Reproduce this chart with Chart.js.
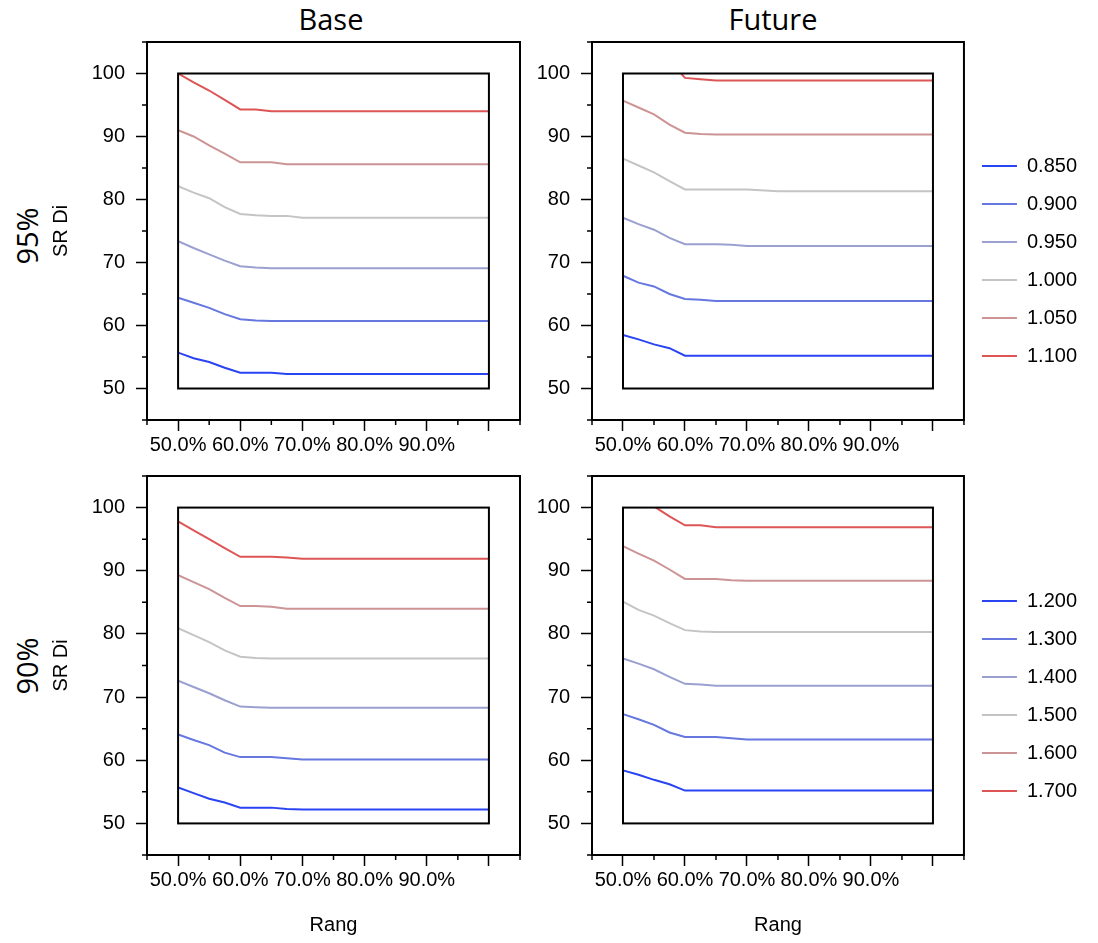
<!DOCTYPE html>
<html>
<head>
<meta charset="utf-8">
<script src="https://cdn.jsdelivr.net/npm/chart.js@4/dist/chart.umd.min.js"></script>
<style>
    body { margin: 0; background: #fff; }
    #lienzo { position: relative; width: 1098px; height: 943px; background: #fff; overflow: hidden; }
    #lienzo canvas { position: absolute; }
    .rotulo { position: absolute; font-family: "Open Sans", sans-serif; color: #000; line-height: 1; white-space: nowrap; }
    .vertical { transform: translate(-50%, -50%) rotate(-90deg); }
</style>
</head>
<body>
<div id="lienzo">
    <div class="rotulo" style="left:331px; top:4px; font-size:29px; transform:translateX(-50%);">Base</div>
    <div class="rotulo" style="left:773px; top:4px; font-size:29px; transform:translateX(-50%);">Future</div>
    <div class="rotulo vertical" style="left:26px; top:236px; font-size:29px;">95%</div>
    <div class="rotulo vertical" style="left:26px; top:666px; font-size:29px;">90%</div>
    <canvas id="baseAlto" width="530" height="480" style="left:0; top:0;"></canvas>
    <canvas id="futuroAlto" width="578" height="480" style="left:520px; top:0;"></canvas>
    <canvas id="baseBajo" width="530" height="509" style="left:0; top:434px;"></canvas>
    <canvas id="futuroBajo" width="578" height="509" style="left:520px; top:434px;"></canvas>
</div>
<script>
// Datos
const rang = [50, 52.5, 55, 57.5, 60, 62.5, 65, 67.5, 70, 75, 80, 90, 100];

const etiquetas95 = ["0.850", "0.900", "0.950", "1.000", "1.050", "1.100"];
const etiquetas90 = ["1.200", "1.300", "1.400", "1.500", "1.600", "1.700"];

// Base 95%
const base95 = [
    [55.7, 54.8, 54.2, 53.3, 52.5, 52.5, 52.5, 52.3, 52.3, 52.3, 52.3, 52.3, 52.3],
    [64.4, 63.6, 62.8, 61.8, 61.0, 60.8, 60.7, 60.7, 60.7, 60.7, 60.7, 60.7, 60.7],
    [73.4, 72.3, 71.3, 70.3, 69.4, 69.2, 69.1, 69.1, 69.1, 69.1, 69.1, 69.1, 69.1],
    [82.1, 81.1, 80.2, 78.8, 77.7, 77.5, 77.4, 77.4, 77.1, 77.1, 77.1, 77.1, 77.1],
    [91.0, 90.0, 88.6, 87.3, 85.9, 85.9, 85.9, 85.6, 85.6, 85.6, 85.6, 85.6, 85.6],
    [100.0, 98.6, 97.3, 95.8, 94.3, 94.3, 94.0, 94.0, 94.0, 94.0, 94.0, 94.0, 94.0]
];

// Future 95%
const futuro95 = [
    [58.5, 57.8, 57.0, 56.4, 55.2, 55.2, 55.2, 55.2, 55.2, 55.2, 55.2, 55.2, 55.2],
    [67.9, 66.8, 66.2, 65.0, 64.2, 64.1, 63.9, 63.9, 63.9, 63.9, 63.9, 63.9, 63.9],
    [77.1, 76.1, 75.2, 73.9, 72.9, 72.9, 72.9, 72.8, 72.6, 72.6, 72.6, 72.6, 72.6],
    [86.5, 85.4, 84.3, 82.9, 81.6, 81.6, 81.6, 81.6, 81.6, 81.3, 81.3, 81.3, 81.3],
    [95.7, 94.6, 93.5, 91.9, 90.6, 90.4, 90.3, 90.3, 90.3, 90.3, 90.3, 90.3, 90.3],
    [106.5, 105.0, 103.6, 102.0, 99.3, 99.1, 98.9, 98.9, 98.9, 98.9, 98.9, 98.9, 98.9]
];

// Base 90%
const base90 = [
    [55.7, 54.8, 53.9, 53.3, 52.5, 52.5, 52.5, 52.3, 52.2, 52.2, 52.2, 52.2, 52.2],
    [64.1, 63.2, 62.4, 61.2, 60.5, 60.5, 60.5, 60.3, 60.1, 60.1, 60.1, 60.1, 60.1],
    [72.6, 71.6, 70.6, 69.5, 68.5, 68.4, 68.3, 68.3, 68.3, 68.3, 68.3, 68.3, 68.3],
    [80.9, 79.8, 78.7, 77.4, 76.4, 76.2, 76.1, 76.1, 76.1, 76.1, 76.1, 76.1, 76.1],
    [89.3, 88.2, 87.1, 85.7, 84.4, 84.4, 84.3, 84.0, 84.0, 84.0, 84.0, 84.0, 84.0],
    [97.8, 96.4, 95.0, 93.6, 92.2, 92.2, 92.2, 92.1, 91.9, 91.9, 91.9, 91.9, 91.9]
];

// Future 90%
const futuro90 = [
    [58.4, 57.7, 56.9, 56.2, 55.2, 55.2, 55.2, 55.2, 55.2, 55.2, 55.2, 55.2, 55.2],
    [67.3, 66.5, 65.6, 64.4, 63.7, 63.7, 63.7, 63.5, 63.3, 63.3, 63.3, 63.3, 63.3],
    [76.1, 75.3, 74.4, 73.2, 72.1, 72.0, 71.8, 71.8, 71.8, 71.8, 71.8, 71.8, 71.8],
    [85.1, 83.8, 82.9, 81.7, 80.6, 80.4, 80.3, 80.3, 80.3, 80.3, 80.3, 80.3, 80.3],
    [93.9, 92.7, 91.6, 90.2, 88.7, 88.7, 88.7, 88.5, 88.4, 88.4, 88.4, 88.4, 88.4],
    [103.2, 101.7, 100.2, 98.6, 97.2, 97.2, 96.9, 96.9, 96.9, 96.9, 96.9, 96.9, 96.9]
];

const colores = ["#2b44f2", "#6677e0", "#9aa0d0", "#c4c4c4", "#cc9494", "#dd5555"];

Chart.defaults.font.family = '"Liberation Sans", Arial, sans-serif';
Chart.defaults.font.size = 20;
Chart.defaults.color = "#000";

// Marco exterior, rectangulo interior, ticks menores y recorte de las lineas
const marcoPlugin = {
    id: "marco",
    beforeDatasetsDraw(chart) {
        const { ctx, scales: { x, y } } = chart;
        ctx.save();
        ctx.beginPath();
        ctx.rect(x.getPixelForValue(50), y.getPixelForValue(100),
            x.getPixelForValue(100) - x.getPixelForValue(50),
            y.getPixelForValue(50) - y.getPixelForValue(100));
        ctx.clip();
    },
    afterDatasetsDraw(chart) {
        chart.ctx.restore();
    },
    afterDraw(chart) {
        const { ctx, chartArea: a, scales: { x, y } } = chart;
        ctx.save();
        ctx.strokeStyle = "#000";
        ctx.lineWidth = 2;
        ctx.strokeRect(a.left, a.top, a.right - a.left, a.bottom - a.top);
        const x0 = x.getPixelForValue(50), x1 = x.getPixelForValue(100);
        const y0 = y.getPixelForValue(100), y1 = y.getPixelForValue(50);
        ctx.strokeRect(x0, y0, x1 - x0, y1 - y0);
        ctx.lineWidth = 1.5;
        ctx.beginPath();
        x.ticks.forEach(t => {
            if (t.value % 10 !== 0) {
                const px = x.getPixelForValue(t.value);
                ctx.moveTo(px, a.bottom);
                ctx.lineTo(px, a.bottom + 5);
            }
        });
        y.ticks.forEach(t => {
            if (t.value % 10 !== 0) {
                const py = y.getPixelForValue(t.value);
                ctx.moveTo(a.left, py);
                ctx.lineTo(a.left - 5, py);
            }
        });
        ctx.stroke();
        ctx.restore();
    }
};

function colorTick(c) {
    return c.tick && c.tick.value % 10 === 0 ? "#000" : "rgba(0,0,0,0)";
}

function crearPanel(id, series, etiquetas, opc) {
    const datasets = series.map((valores, i) => ({
        label: etiquetas[i],
        data: rang.map((r, j) => ({ x: r, y: valores[j] })),
        borderColor: colores[i],
        backgroundColor: colores[i],
        borderWidth: 2,
        pointRadius: 0,
        tension: 0
    }));

    return new Chart(document.getElementById(id), {
        type: "line",
        data: { datasets },
        plugins: [marcoPlugin],
        options: {
            responsive: false,
            animation: false,
            events: [],
            layout: { padding: opc.padding },
            plugins: {
                tooltip: { enabled: false },
                legend: {
                    display: opc.leyenda,
                    position: "right",
                    labels: {
                        usePointStyle: true,
                        pointStyle: "line",
                        pointStyleWidth: 35,
                        padding: 18,
                        color: "#000",
                        font: { size: 20 }
                    }
                }
            },
            scales: {
                x: {
                    type: "linear",
                    min: 45,
                    max: 105,
                    afterFit: s => { s.height = opc.altoX; },
                    border: { display: false },
                    grid: { drawOnChartArea: false, tickLength: 11, tickWidth: 1.5, tickColor: colorTick },
                    ticks: {
                        stepSize: 5,
                        autoSkip: false,
                        maxRotation: 0,
                        padding: 2,
                        callback: v => (v % 10 === 0 && v >= 50 && v <= 90) ? v.toFixed(1) + "%" : ""
                    },
                    title: {
                        display: opc.tituloX,
                        text: "Rang",
                        padding: { top: 0, bottom: -21.5 }
                    }
                },
                y: {
                    min: 45,
                    max: 105,
                    afterFit: s => { s.width = opc.anchoY; },
                    border: { display: false },
                    grid: { drawOnChartArea: false, tickLength: 11, tickWidth: 1.5, tickColor: colorTick },
                    ticks: {
                        stepSize: 5,
                        autoSkip: false,
                        padding: 11,
                        callback: v => (v % 10 === 0 && v >= 50 && v <= 100) ? String(v) : ""
                    },
                    title: {
                        display: opc.tituloY,
                        text: "SR Di",
                        padding: { top: 49, bottom: 0 }
                    }
                }
            }
        }
    });
}

crearPanel("baseAlto", base95, etiquetas95, {
    padding: { top: 42, right: 10, bottom: 0, left: 0 },
    leyenda: false, altoX: 60, anchoY: 147, tituloX: false, tituloY: true
});
crearPanel("futuroAlto", futuro95, etiquetas95, {
    padding: { top: 42, right: 11, bottom: 0, left: 0 },
    leyenda: true, altoX: 60, anchoY: 72, tituloX: false, tituloY: false
});
crearPanel("baseBajo", base90, etiquetas90, {
    padding: { top: 42, right: 10, bottom: 27, left: 0 },
    leyenda: false, altoX: 61, anchoY: 147, tituloX: true, tituloY: true
});
crearPanel("futuroBajo", futuro90, etiquetas90, {
    padding: { top: 42, right: 11, bottom: 27, left: 0 },
    leyenda: true, altoX: 61, anchoY: 72, tituloX: true, tituloY: false
});
</script>
</body>
</html>
